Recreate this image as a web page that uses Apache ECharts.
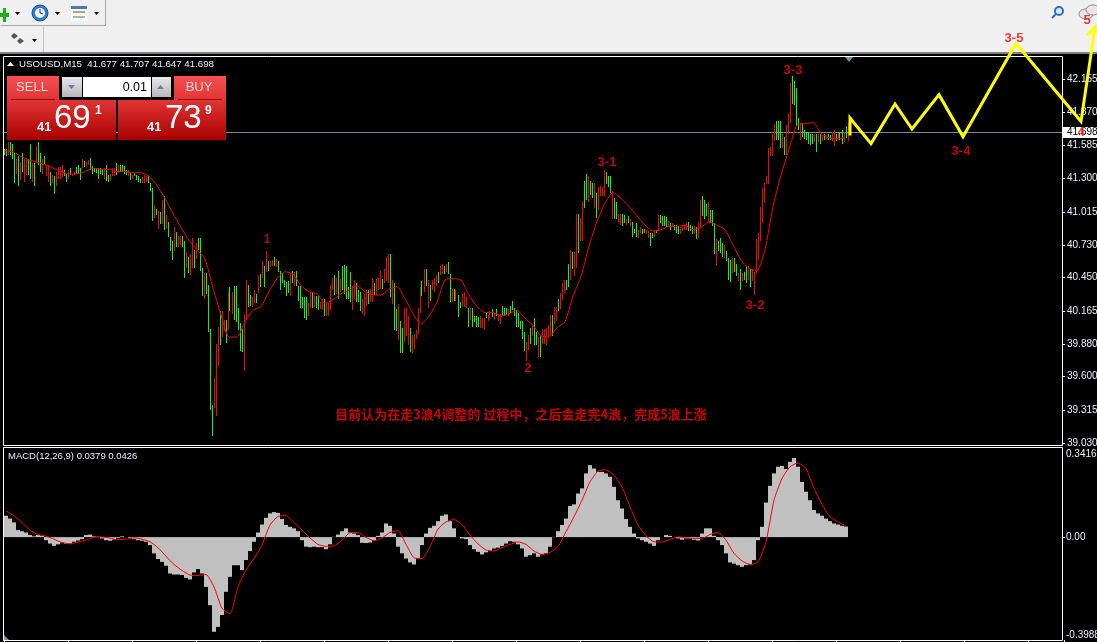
<!DOCTYPE html>
<html><head><meta charset="utf-8">
<style>html,body{margin:0;padding:0;background:#000;overflow:hidden}#c{width:1097px;height:642px}</style>
<script src="https://cdn.jsdelivr.net/npm/echarts@6/dist/echarts.min.js"></script>
</head><body><div id="c"></div>
<script>
const barHigh=[41.55,41.55,41.61,41.61,41.60,41.52,41.47,41.49,41.44,41.52,
41.47,41.47,41.47,41.60,41.43,41.43,41.58,41.61,41.52,41.47,
41.49,41.42,41.42,41.36,41.33,41.32,41.36,41.40,41.40,41.42,
41.37,41.34,41.37,41.39,41.34,41.36,41.40,41.42,41.39,41.47,
41.45,41.44,41.46,41.48,41.41,41.39,41.39,41.39,41.39,41.38,
41.39,41.42,41.33,41.34,41.39,41.39,41.43,41.42,41.42,41.42,
41.41,41.37,41.37,41.36,41.33,41.35,41.33,41.32,41.30,41.31,
41.33,41.32,41.32,41.26,41.22,41.07,41.04,41.02,41.01,41.12,
41.15,40.99,40.93,40.80,40.76,40.88,40.84,40.81,40.81,40.81,
40.76,40.67,40.63,40.65,40.79,40.69,40.75,40.79,40.79,40.53,
40.49,40.49,40.39,40.01,39.36,39.59,39.88,40.03,40.16,40.16,
40.09,40.09,40.33,40.37,40.33,40.38,40.38,40.19,40.06,40.01,
40.14,40.43,40.39,40.30,40.28,40.34,40.31,40.47,40.48,40.59,
40.55,40.68,40.59,40.59,40.60,40.63,40.61,40.59,
40.51,40.49,40.43,40.41,40.42,40.49,40.51,40.50,40.51,40.38,
40.38,40.28,40.28,40.28,40.23,40.33,40.33,40.29,40.29,40.29,
40.24,40.27,40.27,40.23,40.23,40.39,40.45,40.47,40.45,40.51,
40.44,40.55,40.56,40.55,40.37,40.50,40.38,40.43,40.40,40.34,
40.33,40.27,40.31,40.34,40.34,40.35,40.45,40.40,40.44,40.45,
40.51,40.44,40.52,40.63,40.65,40.65,40.43,40.40,40.18,40.22,
40.08,40.02,40.19,40.19,40.12,40.02,39.96,39.97,40.00,40.19,
40.37,40.42,40.52,40.52,40.43,40.39,40.43,40.45,40.47,40.50,
40.55,40.57,40.55,40.57,40.58,40.48,40.35,40.35,40.34,40.30,
40.24,40.31,40.33,40.28,40.19,40.19,40.19,40.12,40.12,40.11,
40.12,40.10,40.10,40.15,40.13,40.16,40.18,40.15,40.18,40.14,
40.14,40.21,40.19,40.19,40.18,40.21,40.25,40.19,40.17,40.15,
40.08,40.08,39.98,39.90,39.96,40.02,40.05,40.10,39.98,39.94,
39.95,40.01,40.01,40.02,40.04,40.13,40.13,40.20,40.20,40.27,
40.32,40.40,40.43,40.43,40.57,40.69,40.67,40.67,41.00,41.00,
40.96,41.11,41.28,41.34,41.32,41.28,41.26,41.26,41.18,41.23,
41.24,41.23,41.37,41.36,41.32,41.32,41.19,41.13,41.10,41.00,
41.00,41.00,40.99,40.95,40.98,40.95,40.93,40.87,40.92,40.86,
40.88,40.87,40.87,40.86,40.85,40.83,40.83,40.85,40.86,40.99,
40.99,40.98,40.98,40.97,40.94,40.92,40.92,40.90,40.90,40.89,
40.88,40.90,40.90,40.92,40.93,40.90,40.89,40.89,40.88,40.93,
41.12,41.15,41.12,41.08,41.10,41.03,41.03,40.92,40.78,40.76,
40.79,40.75,40.73,40.68,40.62,40.60,40.62,40.62,40.57,40.49,
40.52,40.49,40.50,40.55,40.55,40.52,40.52,40.50,40.78,40.83,
41.06,41.22,41.26,41.32,41.56,41.57,41.68,41.77,41.79,41.79,
41.79,41.68,41.66,41.76,41.86,42.12,42.18,42.14,42.08,41.82,
41.78,41.78,41.72,41.70,41.70,41.68,41.68,41.68,41.68,41.68,
41.68,41.67,41.68,41.67,41.68,41.67,41.70,41.72,41.68,41.69,
41.70,41.72,41.70,41.75,41.78];
const barLow=[41.50,41.49,41.50,41.50,41.47,41.26,41.34,41.24,41.29,41.36,
41.27,41.33,41.33,41.30,41.27,41.24,41.44,41.42,41.36,41.34,
41.42,41.32,41.27,41.24,41.26,41.17,41.24,41.30,41.30,41.31,
41.32,41.27,41.30,41.33,41.32,41.33,41.34,41.34,41.29,41.39,
41.40,41.40,41.42,41.37,41.34,41.36,41.35,41.30,41.34,41.33,
41.30,41.28,41.27,41.28,41.32,41.32,41.33,41.35,41.36,41.36,
41.34,41.33,41.32,41.29,41.30,41.32,41.29,41.27,41.26,41.26,
41.26,41.27,41.26,41.19,40.94,40.96,40.99,40.87,40.91,40.91,
40.86,40.87,40.80,40.68,40.60,40.68,40.71,40.71,40.73,40.71,
40.45,40.53,40.49,40.47,40.53,40.53,40.61,40.69,40.51,40.29,
40.27,40.31,39.98,39.31,39.09,39.33,39.26,39.69,39.87,39.94,
39.99,39.89,40.00,40.16,40.14,40.09,40.07,40.00,39.82,39.81,
39.65,40.09,40.20,40.21,40.20,40.23,40.23,40.32,40.37,40.45,
40.37,40.50,40.51,40.54,40.55,40.55,40.54,40.50,
40.34,40.40,40.37,40.29,40.32,40.29,40.40,40.38,40.38,40.25,
40.19,40.19,40.10,40.09,40.12,40.19,40.19,40.20,40.19,40.17,
40.18,40.17,40.12,40.12,40.12,40.17,40.34,40.30,40.31,40.27,
40.33,40.34,40.31,40.27,40.27,40.24,40.17,40.27,40.24,40.24,
40.16,40.14,40.12,40.21,40.22,40.24,40.24,40.30,40.30,40.34,
40.35,40.35,40.40,40.42,40.40,40.28,40.22,40.00,39.99,39.91,
39.80,39.80,39.90,39.95,39.87,39.81,39.80,39.84,39.92,39.97,
40.15,40.29,40.33,40.38,40.19,40.25,40.34,40.33,40.38,40.40,
40.47,40.48,40.48,40.50,40.48,40.24,40.24,40.25,40.25,40.11,
40.19,40.20,40.20,40.19,40.03,40.09,40.03,40.07,40.03,40.03,
40.02,40.02,40.01,40.10,40.08,40.10,40.11,40.09,40.12,40.08,
40.05,40.12,40.12,40.13,40.12,40.15,40.17,40.12,40.03,40.03,
40.01,39.92,39.82,39.73,39.83,39.88,39.95,39.87,39.87,39.77,
39.77,39.88,39.88,39.87,39.94,39.95,39.95,40.05,40.08,40.16,
40.18,40.26,40.32,40.34,40.37,40.43,40.52,40.46,40.53,40.66,
40.76,40.76,41.05,41.12,41.10,41.16,41.13,41.05,40.96,41.03,
41.15,41.15,41.15,41.25,41.23,41.18,40.95,40.95,40.95,40.93,
40.90,40.89,40.92,40.90,40.92,40.89,40.80,40.83,40.80,40.79,
40.83,40.82,40.83,40.82,40.79,40.72,40.79,40.80,40.83,40.85,
40.92,40.89,40.89,40.88,40.88,40.86,40.88,40.86,40.83,40.82,
40.82,40.85,40.86,40.86,40.85,40.85,40.82,40.82,40.78,40.79,
40.88,40.98,40.95,40.98,40.92,40.92,40.89,40.65,40.56,40.68,
40.66,40.63,40.62,40.59,40.43,40.41,40.49,40.50,40.46,40.42,
40.34,40.42,40.43,40.40,40.43,40.37,40.42,40.30,40.49,40.60,
40.76,40.92,41.09,41.25,41.25,41.49,41.49,41.62,41.63,41.63,
41.56,41.56,41.50,41.50,41.68,41.78,41.94,41.93,41.75,41.72,
41.63,41.66,41.64,41.63,41.60,41.59,41.60,41.61,41.53,41.61,
41.60,41.62,41.63,41.64,41.63,41.63,41.62,41.58,41.62,41.63,
41.63,41.60,41.61,41.65,41.62];
const barDir="ggrgggrgrg"+"rrggrgrggr"+"grrgrgrrrr"+"ggrgrrgggr"+"grrggggggg"+"rggrrrgrgg"+"ggrgrggggr"+"rrgggrgrgr"+"grgggrgrrg"+"grgrrgrggg"+"rggggrrrgr"+"rgrgrggggg"+"rrggrrgrgr"+"grgrrgrg"
+"gggggrgrgg"+"ggggrrgrgg"+"rrgrrrrgrg"+"rgggggrrgg"+"grrrgrrgrr"+"rgrrrgrggr"+"ggrrrgrrrr"+"rgrgrgrrrg"+"rrgrggrgrg"+"grrrgrgggg"+"rrrgrrgrgr"+"rgggrggggg"+"gggrrgrggr"+"grrrrrgrrg"+"rrrggrgrrg"+"rrggrggrgr"+"rrrgggrggr"+"rggrgrgggr"+"rggrrggrgr"+"ggggrgrggg"+"rrrrgggrgr"+"rgggrgggrg"+"ggrgggrggr"+"grggrgrrrr"+"rrrrrrrrgg"+"grgrrrgggg"+"rggggggrgr"+"grgrggrrgr"+"ggrgr";
const maPrice=[41.54,41.53,41.49,41.46,41.44,41.42,41.39,41.36,41.34,41.34,41.36,41.39,41.38,41.38,41.36,41.36,41.35,41.35,41.32,41.24,41.13,41.00,40.88,40.77,40.69,40.61,40.36,40.13,39.94,39.94,40.07,40.17,40.20,40.33,40.44,
40.50,40.48,40.38,40.33,40.31,40.23,40.26,40.31,40.34,40.38,40.33,40.30,40.30,40.35,40.37,40.27,40.14,40.05,40.12,40.24,40.43,40.44,40.43,40.30,40.20,40.15,40.15,40.12,40.14,40.17,40.10,40.04,39.95,39.94,40.02,
40.07,40.29,40.46,40.72,40.93,41.09,41.18,41.13,41.06,40.98,40.90,40.85,40.86,40.89,40.89,40.90,40.86,40.88,40.93,40.90,40.86,40.73,40.60,40.53,40.51,40.69,41.06,41.33,41.55,41.76,41.77,41.78,41.69,41.65,41.64,41.65];
const macdHist=[.083,.072,.057,.027,.023,.018,.008,.003,.008,.005,-.012,-.025,-.034,-.028,-.021,-.026,-.025,-.018,-.013,-.008,.008,.010,.003,.001,-.005,-.012,-.014,-.010,-.003,.003,0,-.003,-.008,-.012,-.014,-.018,-.031,-.063,-.085,-.096,-.111,-.141,-.145,-.145,-.147,-.158,-.164,-.137,-.124,-.141,-.193,-.264,-.367,-.348,-.302,-.212,-.154,-.109,-.109,-.128,-.089,-.054,-.018,.018,.049,.075,.092,.097,.094,.070,.047,.040,.034,.023,-.012,-.037,-.039,-.037,-.039,-.039,-.047,-.028,.001,.010,.023,.034,.018,.014,.008,-.022,-.023,-.021,-.012,.005,.018,.053,.044,.014,-.037,-.063,-.083,-.098,-.106,-.083,-.031,.014,
.036,.044,.062,.083,.088,.062,.034,0,-.005,-.008,-.031,-.047,-.057,-.067,-.059,-.054,-.044,-.041,-.034,-.025,-.016,-.018,-.028,-.044,-.076,-.070,-.063,-.076,-.067,-.063,-.037,.001,.023,.047,.072,.121,.127,.169,.189,.247,.279,.266,.253,.253,.247,.234,.195,.143,.111,.070,.040,.014,-.005,-.012,-.018,-.025,-.034,-.012,0,.008,.005,0,-.005,-.010,-.005,-.005,-.010,-.013,.014,.034,.034,.005,-.012,-.031,-.063,-.098,-.103,-.109,-.115,-.109,-.106,-.089,-.012,.040,.134,.199,.247,.273,.276,.264,.292,.307,.273,.214,.176,.143,.105,.092,.083,.072,.062,.053,.049,.044,.041];
const macdSignal=[.102,.083,.057,.027,.010,.004,-.008,-.021,-.026,-.019,-.012,0,.001,-.004,-.010,-.008,-.003,-.008,-.018,-.041,-.074,-.106,-.129,-.147,-.149,-.145,-.193,-.276,-.296,-.193,-.128,-.083,-.031,.047,.080,.084,.057,.027,-.003,-.028,-.036,-.034,-.012,.017,.018,-.001,-.014,-.003,.018,.025,-.028,-.080,-.083,-.037,
.031,.059,.068,.049,.008,-.026,-.050,-.054,-.041,-.028,-.019,-.028,-.054,-.067,-.059,-.037,.021,.079,.143,.214,.256,.261,.240,.195,.118,.047,.005,-.018,-.019,-.009,.001,-.003,-.005,-.005,.010,.018,-.012,-.063,-.092,-.106,-.096,-.018,.143,.227,.273,.287,.266,.189,.127,.079,.059,.044];
const priceTicks=[39.03,39.315,39.6,39.88,40.165,40.45,40.73,41.015,41.3,41.585,41.87,42.155];
const macdTicks=[-0.3988,0,0.3416];
const bidPrice=41.698;
const yellowBar=[423,423,433.5,445.5,454,467.5,479.5,506,538.5,545.5,541.5,545.5,546.5];
const yellowPrice=[41.67,41.82,41.60,41.94,41.725,42.02,41.66,42.46,41.79,42.60,42.53,42.60,42.55];
const noteText=["1","2","3-1","3-2","3-3","3-4","3-5","4","5"];
const noteBar=[131.5,262,301.5,375.5,394.5,478.5,505,538.5,541.5];
const notePrice=[40.78,39.67,41.44,40.21,42.23,41.535,42.50,41.70,42.66];
const commentText="目前认为在走3浪4调整的 过程中，之后会走完4浪，完成5浪上涨";
const titleText="USOUSD,M15  41.677 41.707 41.647 41.698";
const macdTitle="MACD(12,26,9) 0.0379 0.0426";

const RED='#ff0000',GRN='#00ff00',UI='"Liberation Sans",Arial,sans-serif';
const bars=barHigh.map((h,i)=>[i,barLow[i],h,barDir[i]==='r'?1:0]);
const tri=(x,y,w,h,c)=>({type:'polygon',z:60,silent:true,shape:{points:[[x,y],[x+w,y],[x+w/2,y+h]]},style:{fill:c}});
const tri2=(x,y,w,h,c)=>({type:'polygon',z:60,silent:true,shape:{points:[[x,y+h],[x+w,y+h],[x+w/2,y]]},style:{fill:c}});
const rect=(x,y,w,h,fill,z)=>({type:'rect',z:z||60,silent:true,shape:{x,y,width:w,height:h},style:{fill}});
const grad=(a,b)=>new echarts.graphic.LinearGradient(0,0,0,1,[{offset:0,color:a},{offset:1,color:b}]);
const txt=(t,x,y,font,fill,align,z)=>({type:'text',z:z||61,silent:true,style:{text:t,x,y,font,fill,textAlign:align||'left',textVerticalAlign:'middle'}});
const line=(x1,y1,x2,y2,c,z)=>({type:'line',z:z||60,silent:true,shape:{x1,y1,x2,y2},style:{stroke:c,lineWidth:1}});
const frame=(x,y,w,h)=>({type:'rect',z:5,silent:true,shape:{x,y,width:w,height:h},style:{fill:'none',stroke:'#fff',lineWidth:1}});

const graphics=[
 rect(0,0,1097,52,'#f0f0f0',-10),rect(0,52,1097,2,'#808080',-10),
 line(0.5,25.5,105.5,25.5,'#a8a8a8',-9),line(105.5,0,105.5,25,'#a8a8a8',-9),line(43.5,27,43.5,52,'#c0c0c0',-9),
 rect(3,8,3,14,'#19b319',-8),rect(0,13,9,4,'#19b319',-8),
 tri(15,12,5,3,'#000'),tri(55,12,5,3,'#000'),tri(94,12,5,3,'#000'),tri(32,39,5,3,'#000'),
 {type:'circle',z:-8,silent:true,shape:{cx:40,cy:13,r:8},style:{fill:'#2a7fd0',stroke:'#15508f',lineWidth:1}},
 {type:'circle',z:-8,silent:true,shape:{cx:40,cy:13,r:5},style:{fill:'#f4f4f4'}},
 line(40,13,40,9,'#333',-7),line(40,13,43,14,'#333',-7),
 rect(71,6,16,15,'#fff',-8),rect(71,6,16,3,'#3d7cc0',-8),
 line(73,12,85,12,'#8a3010',-7),line(73,17,85,17,'#2a8a30',-7),
 {type:'polygon',z:-8,silent:true,shape:{points:[[14,33],[18,36],[14,39],[11,36]]},style:{fill:'#555'}},
 {type:'polygon',z:-8,silent:true,shape:{points:[[20,38],[24,41],[20,44],[17,41]]},style:{fill:'#555'}},
 {type:'circle',z:-8,silent:true,shape:{cx:1059,cy:11,r:4},style:{fill:'#dcebfa',stroke:'#2a6fc0',lineWidth:2}},
 {type:'line',z:-8,silent:true,shape:{x1:1056,y1:14,x2:1052,y2:18},style:{stroke:'#2a6fc0',lineWidth:2}},
 {type:'ellipse',z:-8,silent:true,shape:{cx:1086,cy:14,rx:7,ry:5},style:{fill:'#e8e8e8',stroke:'#888',lineWidth:1}},
 {type:'ellipse',z:-8,silent:true,shape:{cx:1093,cy:10,rx:7,ry:5},style:{fill:'#e8e8e8',stroke:'#888',lineWidth:1}},
 frame(3.5,56.5,1059,389),frame(3.5,447.5,1059,193),
 tri(845,57,8,5,'#8090a0'),
 {type:'polygon',z:60,silent:true,shape:{points:[[4,635],[4,640],[9,640]]},style:{fill:'#8090a0'}},
 tri2(7,62,7,4,'#fff'),
 txt(titleText,19,64,'9.7px '+UI,'#e6eefa'),
 txt(macdTitle,8,456,'9.5px '+UI,'#e6eefa'),
 rect(1063,127,34,11,'#fff',1),
 txt(bidPrice.toFixed(3),1067,132.5,'10px '+UI,'#000','left',2),
 rect(7,76,52,24,grad('#f75050','#e03535')),line(11,99.5,55,99.5,'#a00000'),
 rect(174,76,52,24,grad('#f75050','#e03535')),line(178,99.5,222,99.5,'#a00000'),
 txt('SELL',32,87.5,'13px '+UI,'#ffdcdc','center'),txt('BUY',199,87.5,'13px '+UI,'#ffdcdc','center'),
 rect(60,76,113,23,'#000'),rect(62,77,20,20,grad('#e8e8e8','#b8b8b8')),rect(152,77,19,20,grad('#e8e8e8','#b8b8b8')),rect(83,77,68,20,'#fff'),
 tri(68,85,7,4,'#6a7ab0'),tri2(157,85,7,4,'#6a7ab0'),
 txt('0.01',147,87.5,'12.5px '+UI,'#000','right'),
 rect(7,100,109,40,grad('#e23434','#a80000')),rect(118,100,108,40,grad('#e23434','#a80000')),
 txt('41',37,127,'bold 13px '+UI,'#fff'),txt('69',54,119,'33px '+UI,'#fff'),txt('1',95,111,'bold 12px '+UI,'#fff'),
 txt('41',147,127,'bold 13px '+UI,'#fff'),txt('73',165,119,'33px '+UI,'#fff'),txt('9',205,111,'bold 12px '+UI,'#fff')
];

const drawBar=(params,api)=>{
 const hi=api.coord([api.value(0),api.value(2)]),lo=api.coord([api.value(0),api.value(1)]);
 const top=Math.round(hi[1]);
 return {type:'rect',shape:{x:Math.floor(hi[0])-1,y:top,width:1,height:Math.max(1,Math.round(lo[1])-top)},
  style:{fill:api.value(3)?RED:GRN}};
};

const chart=echarts.init(document.getElementById('c'),null,{renderer:'canvas',devicePixelRatio:1});
chart.setOption({
 animation:false,backgroundColor:'#000',
 graphic:{elements:graphics},
 grid:[{left:4,top:56,width:1094,height:389,outerBoundsMode:'none'},{left:4,top:449,width:1060,height:191,outerBoundsMode:'none'}],
 xAxis:[
  {type:'category',gridIndex:0,data:Array.from({length:547},(_,i)=>i),show:false},
  {type:'value',gridIndex:0,min:0,max:547,show:false},
  {type:'category',gridIndex:1,data:Array.from({length:265},(_,i)=>i),axisLine:{show:false,onZero:false},
   axisLabel:{show:false},axisTick:{show:true,length:2,interval:i=>i%16===0,lineStyle:{color:'#fff'}},splitLine:{show:false}}
 ],
 yAxis:[
  {type:'value',gridIndex:0,position:'right',offset:-36,min:39.013,max:42.352,splitLine:{show:false},axisLine:{show:false,onZero:false},
   axisTick:{show:true,length:3,customValues:priceTicks,lineStyle:{color:'#fff'}},
   axisLabel:{customValues:priceTicks,formatter:v=>v.toFixed(3),color:'#e6eefa',fontSize:10,fontFamily:'Liberation Sans',margin:5}},
  {type:'value',gridIndex:1,position:'right',offset:-2,min:-0.3988,max:0.3416,splitLine:{show:false},axisLine:{show:false,onZero:false},
   axisTick:{show:true,length:3,customValues:[0],lineStyle:{color:'#fff'}},
   axisLabel:{customValues:macdTicks,formatter:v=>v===0?'0.00':String(v),color:'#e6eefa',fontSize:10,fontFamily:'Liberation Sans',margin:4,
    verticalAlignMaxLabel:'top',verticalAlignMinLabel:'bottom'}}
 ],
 series:[
  {type:'custom',name:'USOUSD',xAxisIndex:0,yAxisIndex:0,data:bars,renderItem:drawBar,encode:{x:0,y:[1,2]},z:3,
   markLine:{silent:true,symbol:'none',label:{show:false},animation:false,z:2,lineStyle:{color:'#778899',width:1,type:'solid'},data:[[{x:4,yAxis:bidPrice},{x:1062,yAxis:bidPrice}]]}},
  {type:'line',name:'MA',xAxisIndex:0,yAxisIndex:0,data:maPrice.map((v,k)=>[k*4,v]),showSymbol:false,symbol:'none',z:4,lineStyle:{color:RED,width:1},smooth:.2},
  {type:'line',name:'Path',xAxisIndex:1,yAxisIndex:0,data:yellowBar.map((b,k)=>[b,yellowPrice[k]]),clip:false,showSymbol:false,symbol:'none',z:7,lineStyle:{color:'#ffff00',width:3,join:'miter'}},
  {type:'scatter',name:'Notes',xAxisIndex:1,yAxisIndex:0,clip:false,symbolSize:0,z:8,
   data:noteBar.map((b,k)=>({value:[b,notePrice[k]],name:noteText[k],label:k===0?{color:'#c01818'}:undefined})),
   label:{show:true,position:'inside',formatter:p=>p.name,color:'#f00808',fontSize:13,fontWeight:'bold',fontFamily:'Liberation Sans'}},
  {type:'scatter',name:'Comment',xAxisIndex:1,yAxisIndex:0,clip:false,symbolSize:0,z:8,
   data:[{value:[258.5,39.275],name:commentText}],
   label:{show:true,position:'inside',formatter:p=>p.name,color:'#ff0000',fontSize:13,fontWeight:'bold',fontFamily:'Noto Sans CJK SC'}},
  {type:'bar',name:'MACD',xAxisIndex:2,yAxisIndex:1,data:macdHist,barWidth:4,itemStyle:{color:'#c0c0c0'},z:3},
  {type:'line',name:'Signal',xAxisIndex:2,yAxisIndex:1,data:macdSignal.map((v,k)=>[k*2,v]),showSymbol:false,symbol:'none',z:4,lineStyle:{color:RED,width:1},smooth:.2}
 ]
});
</script></body></html>
